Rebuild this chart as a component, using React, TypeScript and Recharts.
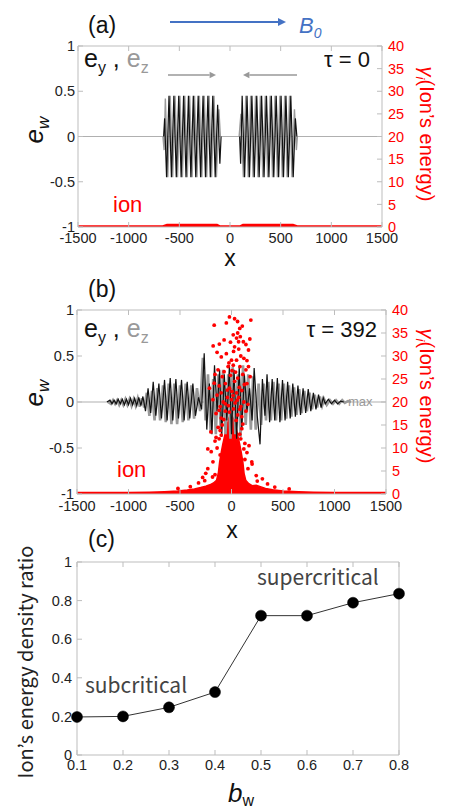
import React from 'react';
import { ComposedChart, Line, Scatter, Area, XAxis, YAxis, ReferenceLine } from 'recharts';

// ---------- shared ticks ----------
const xTicks = [-1500, -1000, -500, 0, 500, 1000, 1500];
const ewTicks = [-1, -0.5, 0, 0.5, 1];
const energyTicks = [0, 5, 10, 15, 20, 25, 30, 35, 40];

// ---------- panel (a): tau = 0 ----------
const aEy: [number, number | null][] = [
  [-655, 0], [-645, 0.2], [-626, -0.45], [-602, 0.45], [-578, -0.45], [-554, 0.45], [-530, -0.45], [-506, 0.45],
  [-482, -0.45], [-458, 0.45], [-434, -0.45], [-410, 0.45], [-386, -0.45], [-362, 0.45], [-338, -0.45], [-314, 0.45],
  [-290, -0.45], [-266, 0.45], [-242, -0.45], [-218, 0.45], [-194, -0.45], [-170, 0.45], [-146, -0.45], [-122, 0.35],
  [-100, -0.3], [-88, 0], [0, null],
  [95, 0], [105, -0.3], [120, 0.45], [144, -0.45], [168, 0.45], [192, -0.45], [216, 0.45], [240, -0.45], [264, 0.45],
  [288, -0.45], [312, 0.45], [336, -0.45], [360, 0.45], [384, -0.45], [408, 0.45], [432, -0.45], [456, 0.45],
  [480, -0.45], [504, 0.45], [528, -0.45], [552, 0.45], [576, -0.45], [600, 0.45], [624, -0.45], [645, 0.2], [660, 0],
];
const aEz: [number, number | null][] = [
  [-662, 0], [-650, -0.15], [-638, 0.42], [-614, -0.45], [-590, 0.45], [-566, -0.45], [-542, 0.45], [-518, -0.45],
  [-494, 0.45], [-470, -0.45], [-446, 0.45], [-422, -0.45], [-398, 0.45], [-374, -0.45], [-350, 0.45], [-326, -0.45],
  [-302, 0.45], [-278, -0.45], [-254, 0.45], [-230, -0.45], [-206, 0.45], [-182, -0.45], [-158, 0.45], [-134, -0.45],
  [-110, 0.3], [-95, 0], [0, null],
  [90, 0], [108, 0.25], [132, -0.45], [156, 0.45], [180, -0.45], [204, 0.45], [228, -0.45], [252, 0.45], [276, -0.45],
  [300, 0.45], [324, -0.45], [348, 0.45], [372, -0.45], [396, 0.45], [420, -0.45], [444, 0.45], [468, -0.45],
  [492, 0.45], [516, -0.45], [540, 0.45], [564, -0.45], [588, 0.45], [612, -0.45], [636, 0.3], [655, -0.15], [665, 0],
];
const aIon: [number, number][] = [
  [-1500, 0], [-660, 0], [-620, 0.35], [-130, 0.35], [-100, 0], [100, 0], [130, 0.35], [620, 0.35], [660, 0], [1500, 0],
];

// ---------- panel (b): tau = 392 ----------
const bEy: [number, number][] = [
  [-1210, 0], [-1180, 0.02], [-1160, -0.02], [-1140, 0.02], [-1120, -0.02], [-1100, 0.03], [-1080, -0.02], [-1060, 0.03],
  [-1040, -0.03], [-1020, 0.03], [-1000, -0.03], [-980, 0.04], [-960, -0.03], [-940, 0.04], [-920, -0.04], [-900, 0.05],
  [-880, -0.04], [-860, 0.06], [-835, -0.1], [-810, 0.15], [-785, -0.12], [-760, 0.22], [-735, -0.15], [-705, 0.2],
  [-680, -0.18], [-650, 0.24], [-625, -0.2], [-595, 0.26], [-570, -0.2], [-540, 0.25], [-515, -0.18], [-485, 0.24],
  [-460, -0.2], [-430, 0.22], [-405, -0.18], [-375, 0.2], [-350, -0.15], [-320, 0.05], [-290, -0.08], [-265, 0.53],
  [-240, -0.3], [-215, 0.2], [-190, -0.35], [-165, 0.4], [-140, -0.1], [-115, 0.35], [-95, -0.38], [-70, 0.3],
  [-45, -0.2], [-20, 0.4], [0, -0.35], [25, 0.35], [50, -0.4], [75, 0.38], [100, -0.3], [125, 0.3], [150, -0.1],
  [175, 0.15], [200, -0.2], [220, 0.37], [250, -0.15], [277, -0.46], [300, 0.25], [325, -0.15], [345, 0.3],
  [370, -0.22], [395, 0.25], [420, -0.2], [445, 0.26], [470, -0.22], [495, 0.24], [520, -0.2], [545, 0.22],
  [570, -0.18], [595, 0.2], [620, -0.16], [645, 0.18], [670, -0.14], [695, 0.15], [720, -0.12], [745, 0.14],
  [770, -0.1], [795, 0.1], [820, -0.08], [845, 0.08], [870, -0.06], [890, 0.05], [910, -0.02], [940, 0.03],
  [970, -0.02], [1000, 0.02], [1030, -0.02], [1060, 0.01], [1090, 0],
];
const bEz: [number, number][] = [
  [-1200, 0], [-1170, -0.02], [-1150, 0.02], [-1130, -0.02], [-1110, 0.02], [-1090, -0.03], [-1070, 0.02], [-1050, -0.03],
  [-1030, 0.03], [-1010, -0.03], [-990, 0.03], [-970, -0.04], [-950, 0.03], [-930, -0.04], [-910, 0.04], [-890, -0.05],
  [-870, 0.04], [-848, -0.06], [-822, 0.1], [-797, -0.15], [-772, 0.12], [-747, -0.2], [-720, 0.15], [-693, -0.2],
  [-665, 0.18], [-638, -0.22], [-610, 0.2], [-583, -0.24], [-555, 0.2], [-528, -0.24], [-500, 0.18], [-473, -0.22],
  [-445, 0.2], [-418, -0.2], [-390, 0.18], [-363, -0.18], [-335, 0.15], [-305, -0.1], [-278, 0.48], [-252, -0.2],
  [-228, 0.3], [-202, -0.33], [-178, 0.25], [-152, -0.35], [-128, 0.3], [-105, -0.3], [-82, 0.35], [-58, -0.35],
  [-32, 0.3], [-10, -0.4], [12, 0.38], [37, -0.35], [62, 0.3], [88, -0.38], [112, 0.4], [138, -0.25], [162, 0.3],
  [188, -0.3], [210, 0.28], [235, -0.3], [263, 0.2], [288, -0.25], [312, 0.2], [335, -0.2], [358, 0.22], [382, -0.2],
  [408, 0.22], [432, -0.2], [458, 0.2], [482, -0.2], [508, 0.2], [532, -0.18], [558, 0.18], [582, -0.16], [608, 0.16],
  [632, -0.14], [658, 0.14], [682, -0.12], [708, 0.12], [732, -0.1], [758, 0.1], [782, -0.08], [808, 0.08],
  [832, -0.06], [858, 0.06], [880, -0.04], [900, 0.03], [925, -0.03], [955, 0.02], [985, -0.02], [1015, 0.02],
  [1045, -0.02], [1075, 0.02], [1100, -0.01], [1130, 0.01], [1160, 0],
];
// dense ion envelope (right axis, energy)
const bIonCore: [number, number][] = [
  [-1500, 0.3], [-1200, 0.32], [-1000, 0.35], [-800, 0.4], [-650, 0.5], [-520, 0.65], [-430, 0.85], [-360, 1.1],
  [-300, 1.4], [-250, 1.7], [-210, 2.0], [-175, 2.4], [-145, 3.0], [-128, 4.5], [-115, 7], [-100, 9], [-85, 10.8],
  [-70, 12.3], [-55, 13.8], [-40, 15.2], [-25, 16.5], [-10, 17.3], [5, 17], [20, 16.3], [35, 15.3], [50, 13.8],
  [65, 12.3], [80, 10.8], [95, 9], [110, 7], [122, 4.5], [138, 3], [165, 2.3], [200, 1.8], [240, 1.9], [280, 1.6],
  [330, 1.2], [400, 0.9], [500, 0.65], [650, 0.5], [800, 0.4], [1000, 0.35], [1200, 0.32], [1500, 0.3],
];
// individual energetic ions
const bIonDots: [number, number][] = [
  [-168, 36.7], [-20, 38.5], [59, 37.5], [105, 36.5], [188, 37.8], [-50, 37.2], [30, 38.1], [80, 36],
  [-178, 32.2], [-118, 32.6], [-72, 33.5], [17, 34.6], [49, 33.9], [69, 33.1], [115, 33.1], [178, 33.7], [30, 32],
  [60, 35], [85, 34.2], [-10, 33], [140, 32.5],
  [165, 31.3], [-99, 29.8], [0, 29.1], [49, 29.1], [-50, 30.5], [90, 30], [120, 29.5], [-140, 30.8], [20, 31],
  [70, 31.5], [-25, 28.5], [150, 29],
  [-33, 27.7], [17, 28], [82, 27.7], [165, 27.7], [-131, 27], [-72, 26.6], [40, 26.5], [110, 26], [181, 25.5],
  [-10, 25.8], [60, 25.2], [-90, 25.5], [140, 27], [-160, 26], [5, 26.8],
  [-214, 23], [-168, 24.1], [-120, 23.5], [-60, 24], [-20, 23], [30, 24.5], [75, 23.2], [100, 22.5], [150, 24],
  [-100, 22], [5, 22.3], [50, 22], [-40, 22.6], [125, 23.8],
  [-180, 20.5], [-140, 21.5], [-80, 20], [-40, 21], [0, 20.5], [35, 19.8], [70, 21], [120, 20], [160, 19.5],
  [-110, 19], [-30, 19.2], [90, 19], [-60, 19.6], [15, 21.4], [55, 20.4],
  [-150, 17.5], [-100, 16.5], [-60, 18], [-20, 17.8], [20, 18.5], [60, 17.2], [100, 16.8], [140, 18], [-75, 16.2],
  [45, 16], [-120, 18.2], [80, 18.4],
  [-200, 13.5], [-130, 14.5], [-100, 12.8], [-90, 15], [80, 13], [110, 15.2], [90, 12], [-120, 12], [-110, 13.8],
  [100, 14.2],
  [-230, 9.8], [-160, 11.5], [-140, 10], [130, 11], [150, 9], [-110, 8.5], [170, 10.5], [-150, 12.3], [120, 9.8],
  [-230, 5.5], [-180, 7], [200, 6.5], [-250, 4.5], [160, 5.5], [-160, 4.2], [130, 7.5], [-197, 9.2], [197, 7],
  [-184, 3.7], [240, 4], [-280, 3.6], [300, 3.3], [-320, 2.4], [350, 2.2], [-400, 1.6], [420, 1.5], [-520, 1.2],
  [560, 1.1], [250, 2.8], [-260, 2.9],
];

// ---------- panel (c) ----------
const bwValues = [0.1, 0.2, 0.3, 0.4, 0.5, 0.6, 0.7, 0.8];
const ratioValues = [0.197, 0.2, 0.247, 0.326, 0.722, 0.722, 0.789, 0.836];
const bwTicks = [0.1, 0.2, 0.3, 0.4, 0.5, 0.6, 0.7, 0.8];
const ratioTicks = [0, 0.2, 0.4, 0.6, 0.8, 1];

// ---------- builders ----------
const toV = (arr: [number, number | null][]) => arr.map(([x, v]) => ({ x, v }));
const toE = (arr: [number, number][]) => arr.map(([x, e]) => ({ x, e }));
const cData = bwValues.map((bw, i) => ({ bw, ratio: ratioValues[i] }));

const FONT = '"Liberation Sans", Arial, sans-serif';
const JFONT = '"Noto Sans CJK JP", "Noto Sans", sans-serif';
const AXIS = '#bdbdbd';
const RED = '#ff0000';
const tickDark = { fill: '#222', fontSize: 14.5, fontFamily: FONT };
const tickRed = { fill: RED, fontSize: 14.5, fontFamily: FONT };
const EmptyTick = () => <g />;
const IonDot = (p: any) => <circle cx={p.cx} cy={p.cy} r={1.9} fill={RED} />;

function WavePanel(props: {
  ey: { x: number; v: number | null }[];
  ez: { x: number; v: number | null }[];
  ezWidth: number;
  rightWidth: number;
  leftWidth: number;
  xHeight: number;
  xMargin: number;
  ionLine?: { x: number; e: number }[];
  ionCore?: { x: number; e: number }[];
  ionDots?: { x: number; e: number }[];
}) {
  const { ey, ez, ezWidth, rightWidth, leftWidth, xHeight, xMargin, ionLine, ionCore, ionDots } = props;
  return (
    <ComposedChart width={450} height={262} margin={{ top: 45, right: 0, bottom: 0, left: 0 }}>
      <XAxis dataKey="x" type="number" domain={[-1500, 1500]} ticks={xTicks} height={xHeight}
        tickSize={-5} tickMargin={xMargin} stroke={AXIS} tick={tickDark} allowDataOverflow interval={0} />
      <XAxis xAxisId="top" orientation="top" dataKey="x" type="number" domain={[-1500, 1500]} ticks={xTicks}
        height={1} tickSize={-5} stroke={AXIS} tick={EmptyTick} allowDataOverflow interval={0} />
      <YAxis yAxisId="l" dataKey="v" type="number" domain={[-1, 1]} ticks={ewTicks} width={leftWidth}
        tickSize={-5} tickMargin={8} stroke={AXIS} tick={tickDark} allowDataOverflow interval={0} />
      <YAxis yAxisId="r" orientation="right" dataKey="e" type="number" domain={[0, 40]} ticks={energyTicks}
        width={rightWidth} tickSize={-5} tickMargin={11} stroke={AXIS} tick={tickRed} allowDataOverflow interval={0} />
      <ReferenceLine yAxisId="l" y={0} stroke="#b0b0b0" strokeWidth={1.2} />
      <Line yAxisId="l" data={ez} dataKey="v" type="linear" stroke="#9a9a9a" strokeWidth={ezWidth} dot={false}
        isAnimationActive={false} connectNulls={false} />
      <Line yAxisId="l" data={ey} dataKey="v" type="linear" stroke="#111" strokeWidth={1.2} dot={false}
        isAnimationActive={false} connectNulls={false} />
      {ionLine && (
        <Line yAxisId="r" data={ionLine} dataKey="e" type="linear" stroke={RED} strokeWidth={3.5} dot={false}
          isAnimationActive={false} />
      )}
      {ionCore && (
        <Area yAxisId="r" data={ionCore} dataKey="e" type="linear" stroke={RED} strokeWidth={1.5} fill={RED}
          fillOpacity={1} isAnimationActive={false} />
      )}
      {ionDots && (
        <Scatter yAxisId="r" data={ionDots} dataKey="e" shape={IonDot} isAnimationActive={false} />
      )}
    </ComposedChart>
  );
}

function Arrow({ x1, x2, y, color, w, head }: { x1: number; x2: number; y: number; color: string; w: number; head: number }) {
  const dir = x2 > x1 ? 1 : -1;
  const base = x2 - dir * head * 1.6;
  return (
    <g>
      <line x1={x1} y1={y} x2={base} y2={y} stroke={color} strokeWidth={w} />
      <polygon points={`${x2},${y} ${base},${y - head * 0.8} ${base},${y + head * 0.8}`} fill={color} />
    </g>
  );
}

export default function App() {
  return (
    <div style={{ position: 'absolute', left: 0, top: 0, width: 450, height: 812, background: '#fff', overflow: 'hidden' }}>
      <div style={{ position: 'absolute', left: 0, top: 0 }}>
        <WavePanel ey={toV(aEy)} ez={toV(aEz)} ezWidth={1.4} leftWidth={78} rightWidth={68} xHeight={35} xMargin={11}
          ionLine={toE(aIon)} />
      </div>
      <div style={{ position: 'absolute', left: 0, top: 264 }}>
        <WavePanel ey={toV(bEy)} ez={toV(bEz)} ezWidth={2.6} leftWidth={77} rightWidth={64} xHeight={32} xMargin={12}
          ionCore={toE(bIonCore)} ionDots={toE(bIonDots)} />
      </div>
      <div style={{ position: 'absolute', left: 0, top: 530 }}>
        <ComposedChart width={450} height={282} data={cData} margin={{ top: 31, right: 50, bottom: 0, left: 0 }}>
          <XAxis dataKey="bw" type="number" domain={[0.1, 0.8]} ticks={bwTicks} height={57} tickSize={-5}
            tickMargin={10} stroke={AXIS} tick={tickDark} interval={0} />
          <XAxis xAxisId="top" orientation="top" dataKey="bw" type="number" domain={[0.1, 0.8]} ticks={bwTicks}
            height={1} tickSize={-5} stroke={AXIS} tick={EmptyTick} interval={0} />
          <YAxis type="number" domain={[0, 1]} ticks={ratioTicks} width={77} tickSize={-5} tickMargin={10}
            stroke={AXIS} tick={tickDark} interval={0} />
          <YAxis yAxisId="r" orientation="right" type="number" domain={[0, 1]} ticks={ratioTicks} width={1}
            tickSize={-5} stroke={AXIS} tick={EmptyTick} interval={0} />
          <Line dataKey="ratio" type="linear" stroke="#333" strokeWidth={1} isAnimationActive={false}
            dot={{ r: 5.5, fill: '#000', stroke: '#000', strokeWidth: 0.5 }} />
        </ComposedChart>
      </div>
      <svg style={{ position: 'absolute', left: 0, top: 0, pointerEvents: 'none' }} width={450} height={812}
        fontFamily={FONT}>
        {/* panel (a) */}
        <text x={88} y={33} fontSize={23} fill="#111">(a)</text>
        <Arrow x1={170} x2={286} y={22} color="#4472c4" w={2} head={5} />
        <text x={299} y={33} fill="#4472c4" fontSize={22} fontStyle="italic">B<tspan fontSize={14} dy={5}>0</tspan></text>
        <text x={84} y={67} fontSize={25} fill="#111">e<tspan fontSize={16} dy={6}>y</tspan><tspan dy={-6}> , </tspan>
          <tspan fill="#999">e</tspan><tspan fill="#999" fontSize={16} dy={6}>z</tspan></text>
        <text x={370} y={67} fontSize={22} fill="#111" textAnchor="end">τ = 0</text>
        <Arrow x1={168} x2={216} y={75} color="#999" w={1.6} head={4} />
        <Arrow x1={297} x2={243} y={75} color="#999" w={1.6} head={4} />
        <text x={113} y={212} fontSize={22} fill={RED}>ion</text>
        <text x={230} y={266} fontSize={23} fill="#111" textAnchor="middle">x</text>
        <text transform="rotate(-90 43 130)" x={43} y={130} fontSize={26} fill="#111" textAnchor="middle"
          fontStyle="italic">e<tspan fontSize={17} dy={6}>w</tspan></text>
        <text transform="rotate(90 420 134)" x={420} y={134} fontSize={20} fill={RED} textAnchor="middle">
          <tspan fontStyle="italic">γ</tspan><tspan fontStyle="italic" fontSize={13} dy={4}>i</tspan>
          <tspan dy={-4}>(Ion’s energy)</tspan></text>

        {/* panel (b) */}
        <text x={88} y={297} fontSize={23} fill="#111">(b)</text>
        <text x={84} y={337} fontSize={25} fill="#111">e<tspan fontSize={16} dy={6}>y</tspan><tspan dy={-6}> , </tspan>
          <tspan fill="#999">e</tspan><tspan fill="#999" fontSize={16} dy={6}>z</tspan></text>
        <text x={377} y={337} fontSize={22} fill="#111" textAnchor="end">τ = 392</text>
        <text x={117} y={477} fontSize={22} fill={RED}>ion</text>
        <text x={348} y={406} fontSize={13} fill="#999">max</text>
        <text x={232} y={538} fontSize={23} fill="#111" textAnchor="middle">x</text>
        <text transform="rotate(-90 43 393)" x={43} y={393} fontSize={26} fill="#111" textAnchor="middle"
          fontStyle="italic">e<tspan fontSize={17} dy={6}>w</tspan></text>
        <text transform="rotate(90 420 396)" x={420} y={396} fontSize={20} fill={RED} textAnchor="middle">
          <tspan fontStyle="italic">γ</tspan><tspan fontStyle="italic" fontSize={13} dy={4}>i</tspan>
          <tspan dy={-4}>(Ion’s energy)</tspan></text>

        {/* panel (c) */}
        <text x={88} y={547} fontSize={23} fill="#111">(c)</text>
        <text x={257} y={585} fontSize={21} fill="#444" fontFamily={JFONT}>supercritical</text>
        <text x={85} y={693} fontSize={21} fill="#444" fontFamily={JFONT}>subcritical</text>
        <text transform="rotate(-90 33 662)" x={33} y={662} fontSize={20} fill="#222" textAnchor="middle"
          fontFamily={JFONT}>Ion’s  energy density ratio</text>
        <text x={228} y={802} fontSize={26} fill="#111" fontStyle="italic">b<tspan fontSize={16} fontStyle="normal" dy={4}>w</tspan></text>
      </svg>
    </div>
  );
}
